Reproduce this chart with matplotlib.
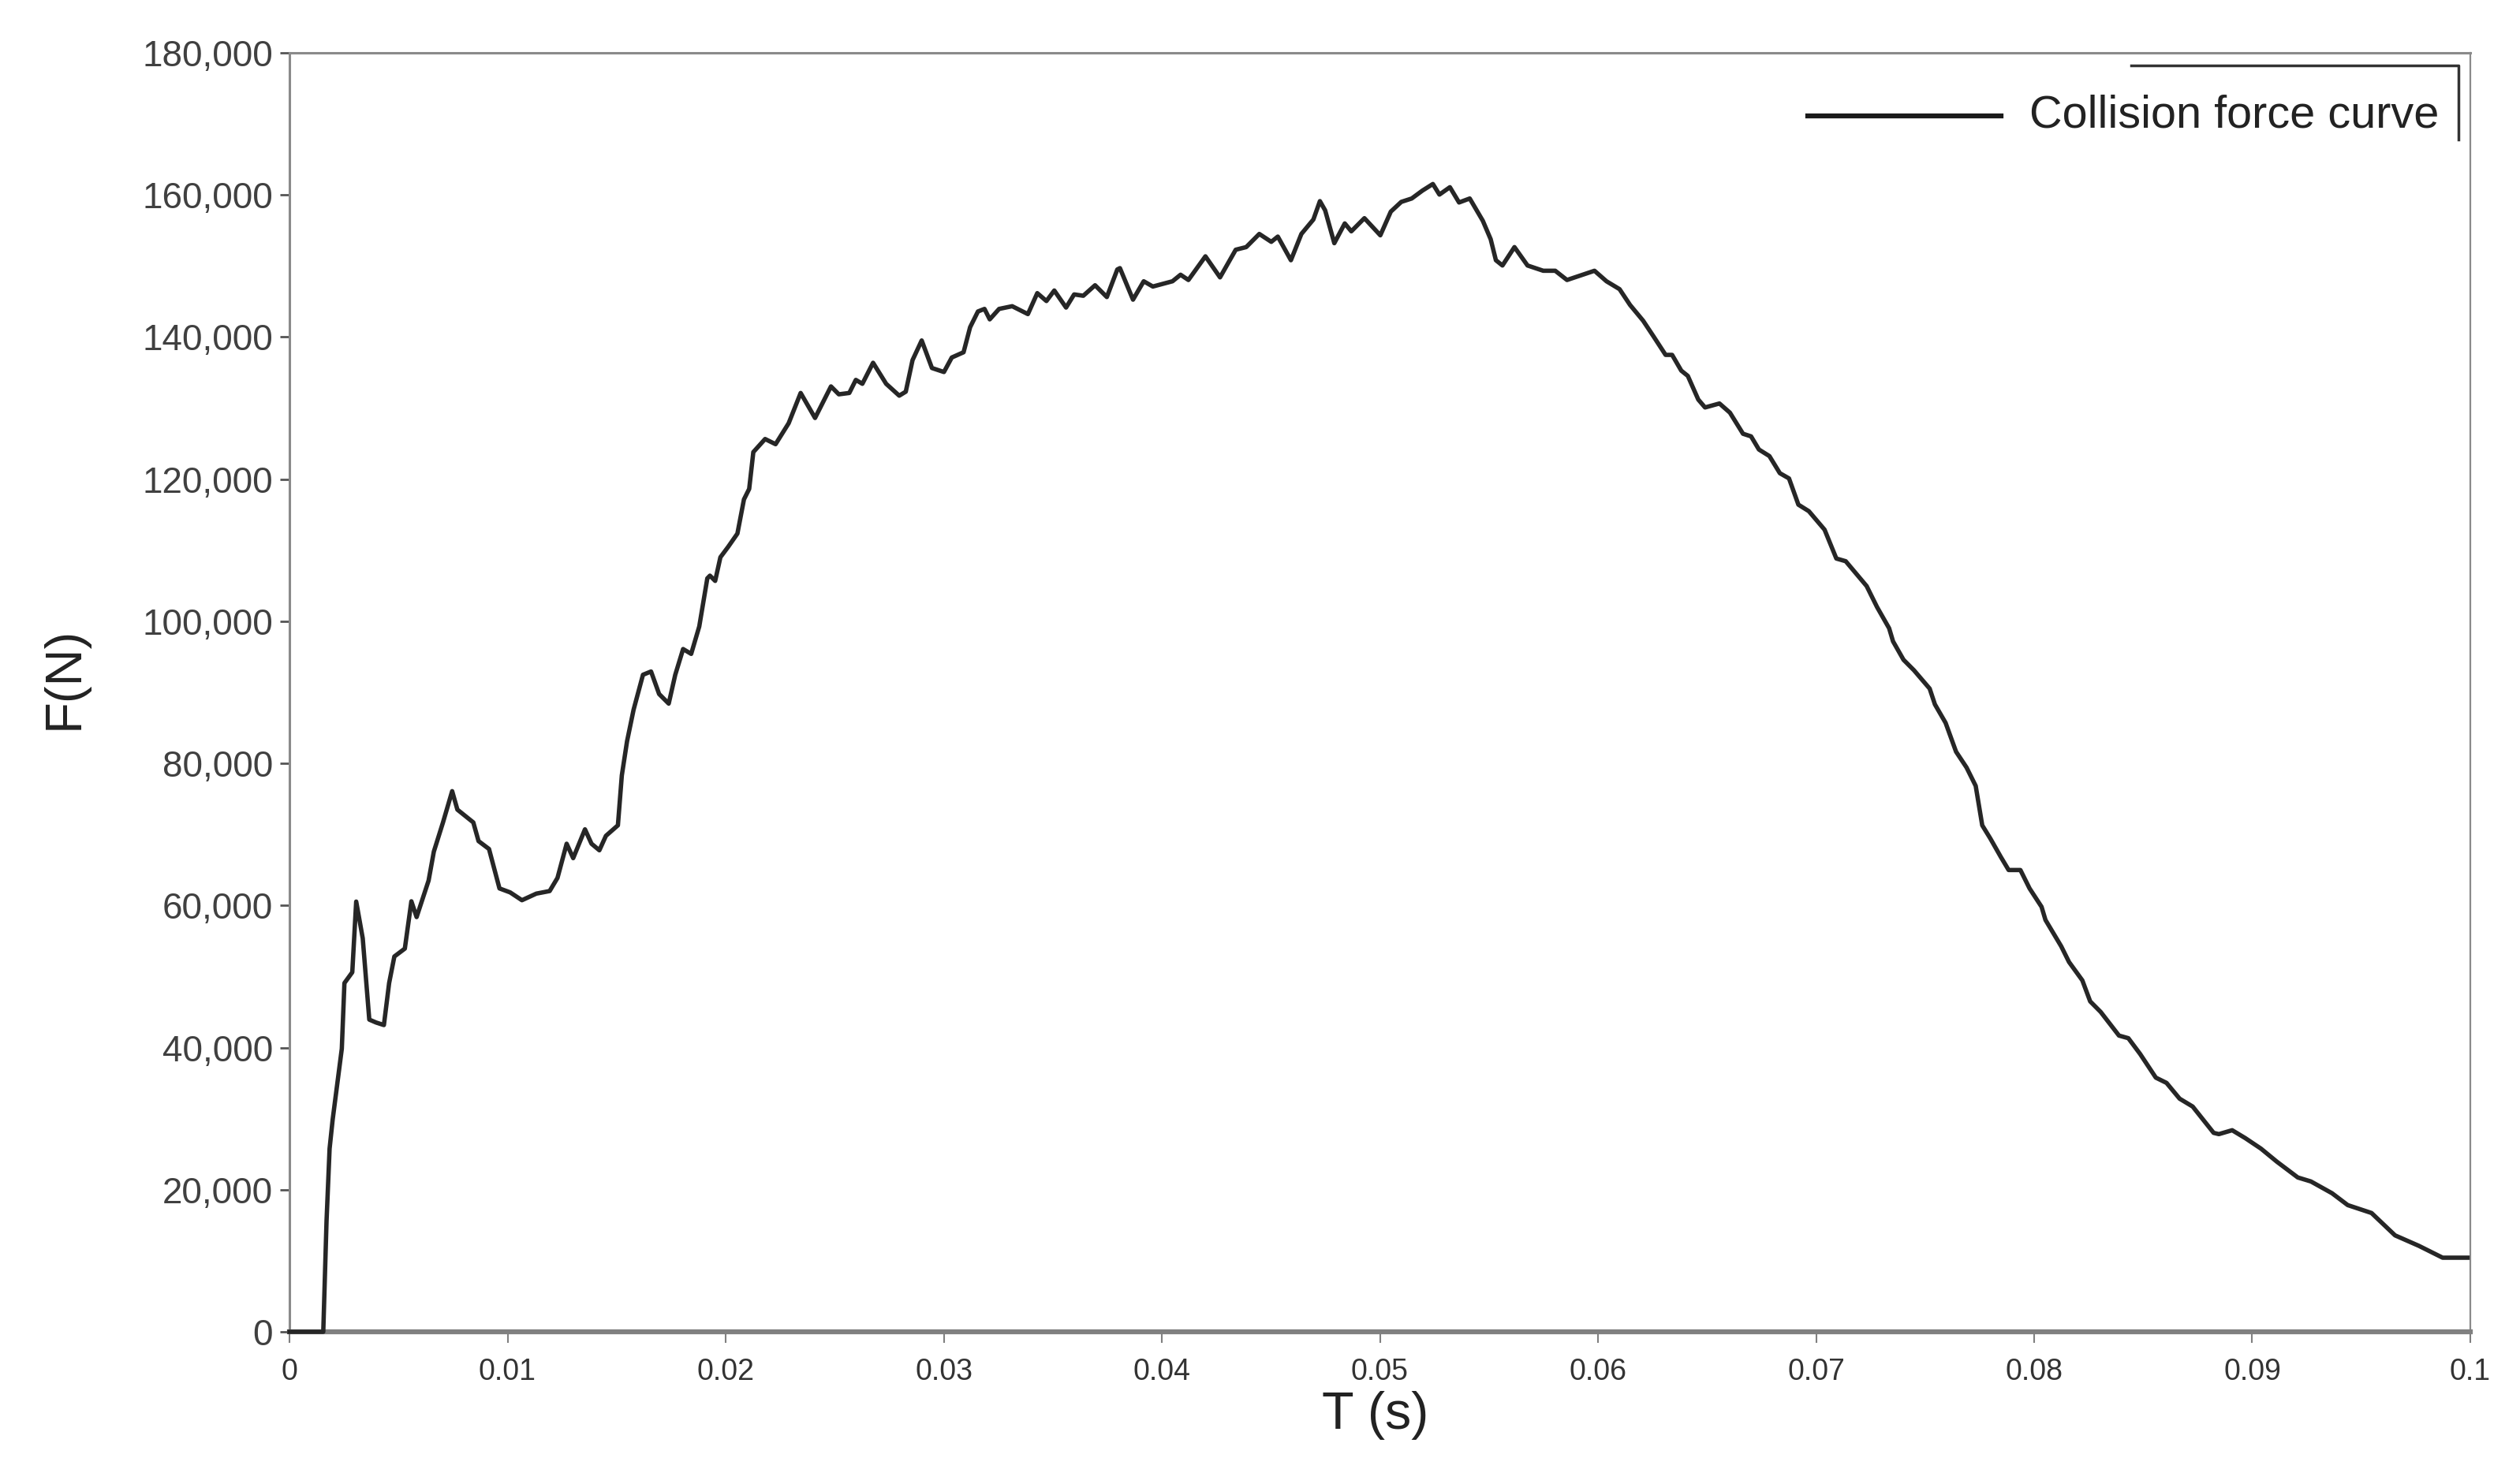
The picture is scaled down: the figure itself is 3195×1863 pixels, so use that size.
import matplotlib
matplotlib.use('Agg')
import matplotlib.pyplot as plt
from matplotlib.lines import Line2D
import numpy as np

# time in ms, force in N
t_ms = [0.0, 1.55, 1.70, 1.84, 1.98, 2.40, 2.52, 2.88, 3.06, 3.36, 3.66, 3.97, 4.33, 4.57, 4.81,
        5.29, 5.59, 5.83, 6.38, 6.62, 7.04, 7.46, 7.70, 8.43, 8.67, 9.15, 9.63, 10.12, 10.66,
        11.32, 11.93, 12.29, 12.71, 13.01, 13.55, 13.85, 14.21, 14.51, 15.06, 15.24, 15.48,
        15.78, 16.21, 16.58, 16.95, 17.39, 17.69, 18.05, 18.42, 18.79, 19.16, 19.28, 19.52,
        19.76, 20.12, 20.54, 20.84, 21.08, 21.27, 21.81, 22.29, 22.89, 23.44, 24.10, 24.83,
        25.19, 25.67, 25.97, 26.27, 26.76, 27.36, 27.96, 28.26, 28.57, 28.99, 29.46, 30.01,
        30.37, 30.91, 31.21, 31.57, 31.87, 32.11, 32.54, 33.14, 33.86, 34.29, 34.71, 35.07,
        35.61, 35.98, 36.40, 36.94, 37.48, 37.96, 38.08, 38.68, 39.17, 39.59, 40.49, 40.86,
        41.22, 42.00, 42.67, 43.39, 43.87, 44.47, 45.02, 45.32, 45.92, 46.40, 46.95, 47.25,
        47.49, 47.91, 48.39, 48.69, 49.29, 50.02, 50.50, 50.98, 51.46, 51.95, 52.43, 52.73,
        53.21, 53.63, 54.12, 54.72, 55.08, 55.32, 55.62, 56.17, 56.77, 57.49, 58.04, 58.58,
        59.30, 59.84, 60.39, 60.99, 61.47, 62.07, 62.55, 63.10, 63.40, 63.82, 64.12, 64.60,
        64.91, 65.57, 66.05, 66.65, 67.02, 67.38, 67.86, 68.34, 68.76, 69.19, 69.67, 70.39,
        70.93, 71.36, 72.32, 72.80, 73.35, 73.53, 74.01, 74.49, 75.21, 75.45, 75.94, 76.42,
        76.90, 77.32, 77.44, 77.62, 77.99, 78.47, 78.83, 79.37, 79.79, 80.34, 80.52, 81.24,
        81.60, 82.21, 82.57, 83.05, 83.89, 84.32, 84.86, 85.58, 86.07, 86.67, 87.27, 88.23,
        88.47, 89.08, 89.68, 90.40, 91.13, 92.09, 92.69, 93.66, 94.38, 95.47, 96.55, 97.64,
        98.73, 99.87]
force = [0, 0, 15600, 25780, 29850, 39840, 49080, 50600, 60550, 55370, 43940, 43530, 43170, 49080, 52820,
         53930, 60590, 58370, 63510, 67580, 71690, 76090, 73490, 71690, 69060, 67950, 62400, 61840, 60740,
         61670, 62030, 63880, 68690, 66660, 70720, 68690, 67770, 69800, 71280, 78310, 83120,
         87560, 92470, 92930, 89760, 88410, 92470, 96090, 95410, 99260, 106040, 106420, 105680,
         109010, 110490, 112340, 117150, 118630, 123810, 125650, 124920, 127870, 132130, 128610, 133050,
         131940, 132130, 133970, 133420, 136380, 133420, 131750, 132310, 136750, 139520, 135640, 135080,
         137120, 137860, 141380, 143600, 143960, 142490, 143960, 144340, 143230, 146180, 145070, 146550,
         144150, 146000, 145810, 147290, 145630, 149510, 149700, 145260, 147850, 147110, 147850, 148770,
         148030, 151360, 148400, 152290, 152660, 154510, 153400, 154140, 150810, 154510, 156540, 159130,
         157830, 153210, 155990, 154880, 156730, 154320, 157650, 159020, 159500, 160610, 161540, 160050,
         161090, 158940, 159500, 156360, 153770, 150810, 150070, 152660, 150070, 149330, 149330, 148030,
         148770, 149330, 147850, 146740, 144520, 142300, 140080, 137490, 137490, 135270, 134530, 131200,
         130090, 130650, 129360, 126390, 126020, 124170, 123250, 120840, 120100, 116410, 115490, 112890,
         108830, 108450, 104950, 101980, 99020, 97170, 94580, 93100, 90520, 88300, 85700, 81640,
         79420, 76830, 74610, 71280, 69430, 66840, 64990, 64990, 62400, 59810, 57960, 54260,
         52040, 49460, 46500, 45020, 41690, 41320, 39100, 35770, 35030, 32810, 31700, 28000,
         27820, 28370, 27260, 25780, 23940, 21720, 21160, 19500, 17830, 16720, 13570, 12100,
         10430, 10430]

x_ticks = [0, 0.01, 0.02, 0.03, 0.04, 0.05, 0.06, 0.07, 0.08, 0.09, 0.1]
x_tick_labels = ['0', '0.01', '0.02', '0.03', '0.04', '0.05', '0.06', '0.07', '0.08', '0.09', '0.1']
y_ticks = [0, 20000, 40000, 60000, 80000, 100000, 120000, 140000, 160000, 180000]
legend_label = 'Collision force curve'

W, H = 3195, 1863
font = 'Liberation Sans'


def main():
    fig = plt.figure(figsize=(W / 100, H / 100), dpi=100)
    ax = fig.add_axes([367 / W, 1 - 1689 / H, (3132 - 367) / W, (1689 - 67) / H])

    t = np.array(t_ms) / 1000.0
    ax.plot(t, force, color='#262626', lw=4.0, solid_joinstyle='round', zorder=3, clip_on=False)

    ax.set_xlim(0, 0.1)
    ax.set_ylim(0, 180000)
    ax.set_xticks(x_ticks)
    ax.set_xticklabels(x_tick_labels, fontfamily=font, fontsize=27, color='#333333')
    ax.set_yticks(y_ticks)
    ax.set_yticklabels(['{:,}'.format(v) for v in y_ticks], fontfamily=font, fontsize=33,
                       color='#404040')
    ax.tick_params(axis='x', length=10, width=1.5, color='#808080', pad=14)
    ax.tick_params(axis='y', length=9, width=2, color='#555555', pad=6)

    for side in ['left', 'top', 'right']:
        ax.spines[side].set_color('#8a8a8a')
        ax.spines[side].set_linewidth(2.2)
    ax.spines['right'].set_linewidth(1.6)
    ax.spines['bottom'].set_color('#808080')
    ax.spines['bottom'].set_linewidth(4.5)

    # axis titles
    fig.text(1744 / W, 1 - 1795 / H, 'T (s)', fontfamily=font, fontsize=48, color='#222222',
             ha='center', va='center')
    fig.text(82 / W, 1 - 860 / H, 'F(N)', fontfamily=font, fontsize=47, color='#222222',
             ha='center', va='center', rotation=90)

    # legend drawn by hand, with its partial frame
    ly = 1 - 147 / H
    fig.add_artist(Line2D([2292 / W, 2537 / W], [ly, ly], color='#1a1a1a', lw=4.5))
    fig.text(2573 / W, ly, legend_label, fontfamily=font, fontsize=41.5, color='#222222',
             ha='left', va='center')
    fig.add_artist(Line2D([2702 / W, 3117 / W, 3117 / W], [1 - 83 / H, 1 - 83 / H, 1 - 177 / H],
                          color='#333333', lw=2.5))

    fig.savefig('out.png', dpi=100)


if __name__ == '__main__':
    main()
